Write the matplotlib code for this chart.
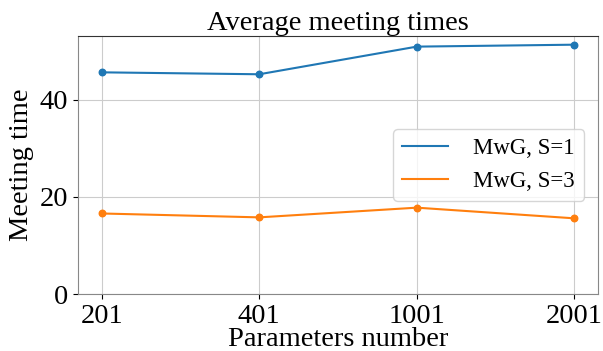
import matplotlib
matplotlib.use("Agg")
import matplotlib.pyplot as plt

params = ["201", "401", "1001", "2001"]
s1_times = [45.7, 45.3, 51.0, 51.4]
s3_times = [16.6, 15.8, 17.8, 15.6]

plt.rcParams["font.family"] = ["Liberation Serif", "DejaVu Serif"]

fig = plt.figure(figsize=(6.03, 3.51), dpi=100)
ax = fig.add_axes([78 / 603, 1 - 294 / 351, 520 / 603, 258 / 351])

x = range(len(params))
ax.plot(x, s1_times, color="#1f77b4", lw=1.5, label="MwG, S=1")
ax.scatter(x, s1_times, color="#1f77b4", s=22, zorder=3)
ax.plot(x, s3_times, color="#ff7f0e", lw=1.5, label="MwG, S=3")
ax.scatter(x, s3_times, color="#ff7f0e", s=22, zorder=3)

ax.set_xticks(list(x))
ax.set_xticklabels(params)
ax.set_ylim(bottom=0)
ax.set_yticks([0, 20, 40])
ax.tick_params(labelsize=20.5)
ax.grid(True, color="#cccccc", lw=0.8)
ax.set_axisbelow(True)

for side in ["left", "bottom", "right"]:
    ax.spines[side].set_color("#888888")
ax.spines["top"].set_color("#333333")

ax.set_title("Average meeting times", fontsize=20.5, pad=4)
ax.set_xlabel("Parameters number", fontsize=20.5, labelpad=-1)
ax.set_ylabel("Meeting time", fontsize=20.5)
ax.legend(loc="center right", fontsize=16.5, borderaxespad=0.6,
          handletextpad=1.1)

fig.savefig("out.png", dpi=100)
